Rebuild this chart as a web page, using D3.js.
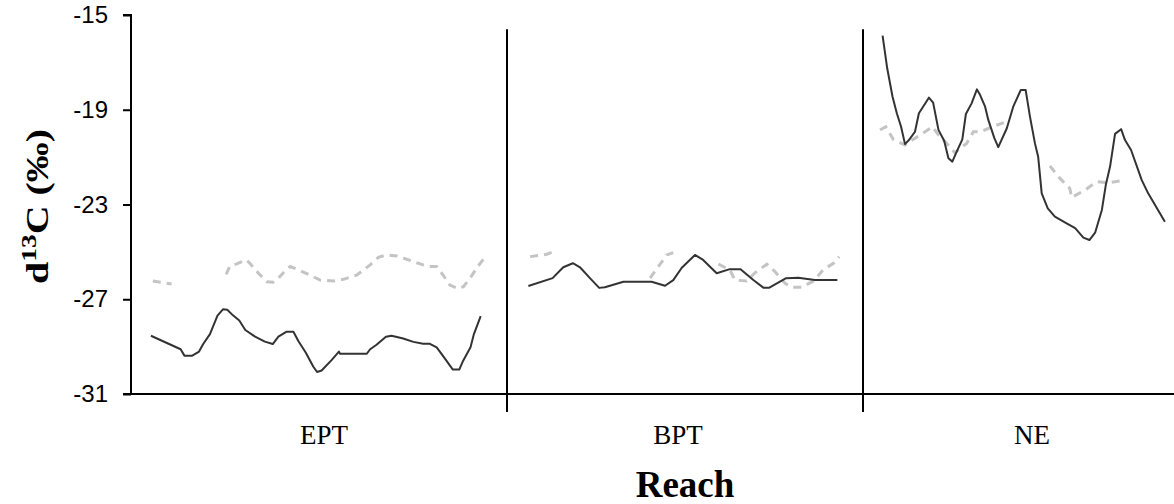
<!DOCTYPE html>
<html>
<head>
<meta charset="utf-8">
<script src="https://cdn.jsdelivr.net/npm/d3@7"></script>
<style>
  html, body { margin: 0; padding: 0; background: #fff; }
  svg { display: block; }
</style>
</head>
<body>
<svg id="chart" width="1174" height="504"></svg>
<script>
// ---- data ----
const categories = ["EPT", "BPT", "NE"];
const yTicks = [-31, -27, -23, -19, -15];
const yTitle = "d";
const ySup = "13";
const yTitleRest = "C (‰)";
const xTitle = "Reach";

// [position along reach (0–100), δ13C value]; null = gap
const eptSolid = [[5.3,-28.54],[13.2,-29.11],[14.2,-29.38],[16.3,-29.38],[18.1,-29.21],[19.2,-28.89],[21.0,-28.47],[23.0,-27.69],[24.5,-27.42],[25.6,-27.44],[27.2,-27.69],[28.8,-27.90],[30.4,-28.30],[33.0,-28.58],[35.6,-28.79],[37.7,-28.89],[39.2,-28.58],[41.4,-28.37],[43.2,-28.37],[44.5,-28.76],[46.5,-29.26],[48.5,-29.85],[49.5,-30.07],[50.7,-30.01],[53.4,-29.56],[55.3,-29.21],[55.6,-29.30],[62.7,-29.30],[63.6,-29.11],[65.3,-28.92],[67.8,-28.58],[69.3,-28.54],[72.4,-28.66],[75.1,-28.80],[77.7,-28.88],[79.5,-28.88],[81.3,-29.03],[83.5,-29.51],[85.6,-29.97],[87.3,-29.97],[88.2,-29.64],[90.3,-29.03],[91.2,-28.47],[93.0,-27.71]];
const eptGrey = [[5.8,-26.23],[10.8,-26.36],[11,null],[25.3,-25.95],[26.3,-25.60],[28.1,-25.51],[30.6,-25.34],[31.6,-25.48],[33.9,-25.90],[36.1,-26.26],[37.8,-26.28],[39.2,-26.11],[41.2,-25.76],[42.3,-25.62],[44.1,-25.73],[47.6,-25.98],[50.3,-26.19],[53.8,-26.23],[56.5,-26.16],[60.0,-25.98],[63.6,-25.55],[65.8,-25.23],[68.0,-25.13],[70.7,-25.17],[73.3,-25.31],[76.0,-25.46],[79.1,-25.62],[81.3,-25.62],[83.0,-25.98],[84.8,-26.40],[87.0,-26.55],[88.4,-26.47],[90.2,-26.11],[91.9,-25.69],[93.9,-25.27]];
const bptSolid = [[6.0,-26.44],[12.8,-26.11],[15.8,-25.65],[18.5,-25.48],[20.5,-25.65],[23.3,-26.11],[25.9,-26.52],[27.5,-26.49],[32.7,-26.26],[40.6,-26.26],[44.4,-26.43],[46.7,-26.19],[49.1,-25.67],[52.8,-25.13],[55.1,-25.34],[58.9,-25.90],[62.6,-25.73],[65.6,-25.73],[69.2,-26.19],[72.0,-26.51],[73.7,-26.51],[78.4,-26.11],[81.8,-26.09],[86.5,-26.19],[92.8,-26.19]];
const bptGrey = [[6.5,-25.20],[11.2,-25.10],[13.8,-24.95],[14,null],[40.2,-26.11],[42.5,-25.62],[44.9,-25.13],[46.7,-25.03],[47,null],[59.4,-25.52],[62.6,-25.76],[64.0,-26.19],[67.3,-26.23],[69.7,-25.88],[73.0,-25.52],[75.3,-25.84],[78.1,-26.33],[80.0,-26.49],[82.8,-26.49],[86.2,-26.22],[88.8,-25.76],[91.7,-25.48],[93.3,-25.20]];
const neSolid = [[5.5,-15.87],[6.8,-17.25],[8.3,-18.45],[9.5,-19.15],[10.7,-19.72],[11.8,-20.45],[12.9,-20.28],[14.6,-19.93],[15.7,-19.15],[17.2,-18.80],[18.5,-18.49],[19.7,-18.70],[21.2,-19.85],[22.8,-20.31],[24.0,-21.05],[25.1,-21.19],[26.1,-20.84],[27.9,-20.25],[28.9,-19.18],[30.5,-18.73],[32.0,-18.14],[32.9,-18.38],[34.3,-18.87],[35.2,-19.43],[36.9,-20.20],[38.0,-20.58],[40.4,-19.78],[42.2,-18.87],[44.3,-18.17],[45.7,-18.17],[46.9,-19.29],[48.3,-20.42],[49.2,-20.98],[50.2,-22.53],[51.9,-23.16],[53.9,-23.51],[56.7,-23.75],[59.6,-24.00],[61.9,-24.40],[63.6,-24.50],[65.2,-24.19],[67.1,-23.23],[68.2,-22.18],[69.4,-21.40],[70.8,-20.02],[72.5,-19.82],[73.6,-20.28],[75.3,-20.70],[78.3,-21.97],[80.1,-22.53],[84.8,-23.73]];
const neGrey = [[4.8,-19.85],[6.4,-19.72],[8.5,-20.25],[11.8,-20.49],[14.6,-20.20],[16.5,-20.02],[19.5,-19.72],[21.6,-20.14],[23.5,-20.42],[25.8,-20.81],[29.1,-20.42],[31.0,-19.93],[33.1,-19.93],[36.2,-19.72],[39.9,-19.53],[40,null],[52.5,-21.37],[54.9,-21.83],[58.1,-22.32],[58.6,-22.70],[62.4,-22.39],[65.6,-22.04],[68.9,-22.08],[73.1,-21.99]];

const solidSeries = [eptSolid, bptSolid, neSolid];
const greySeries = [eptGrey, bptGrey, neGrey];

// ---- layout ----
const svg = d3.select("#chart");
const x = d3.scaleLinear().domain([0, 100, 200, 300]).range([131, 507, 863, 1219]);
const xLabel = d3.scaleBand().domain(categories).range([147, 1209]);
const y = d3.scaleLinear().domain([-31, -15]).range([394, 15]);

// y axis
const yAxis = d3.axisLeft(y).tickValues(yTicks).tickSize(8).tickPadding(15).tickFormat(d => String(d));
const gy = svg.append("g").attr("transform", `translate(${x(0)},0)`).call(yAxis);
gy.select(".domain").attr("stroke", "#000").attr("stroke-width", 2).attr("d", `M-8,${y(-15)}H0V${y(-31)}`);
gy.selectAll(".tick line").attr("stroke", "#000").attr("stroke-width", 2);
gy.selectAll(".tick text")
  .attr("font-family", "Liberation Sans, Arial, sans-serif")
  .attr("font-size", 24).attr("fill", "#000");

// x axis baseline
svg.append("line")
  .attr("x1", x(0) - 8).attr("x2", x(300))
  .attr("y1", y(-31)).attr("y2", y(-31))
  .attr("stroke", "#000").attr("stroke-width", 2);

// reach separators
svg.selectAll("line.sep").data([100, 200]).join("line")
  .attr("class", "sep")
  .attr("x1", d => x(d)).attr("x2", d => x(d))
  .attr("y1", y(-15.6)).attr("y2", y(-31) + 18)
  .attr("stroke", "#000").attr("stroke-width", 2);

// category labels
svg.selectAll("text.cat").data(categories).join("text")
  .attr("class", "cat")
  .attr("x", d => xLabel(d) + xLabel.bandwidth() / 2)
  .attr("y", 444)
  .attr("text-anchor", "middle")
  .attr("font-family", "Liberation Serif, 'Times New Roman', serif")
  .attr("font-size", 27)
  .attr("fill", "#000")
  .text(d => d);

// x title
svg.append("text")
  .attr("x", x(150)).attr("y", 497)
  .attr("text-anchor", "middle")
  .attr("font-family", "Liberation Serif, 'Times New Roman', serif")
  .attr("font-weight", "bold").attr("font-size", 37)
  .attr("fill", "#000")
  .text(xTitle);

// y title
const yt = svg.append("text")
  .attr("transform", `translate(48,${(y(-15) + y(-31)) / 2 + 2}) rotate(-90)`)
  .attr("text-anchor", "middle")
  .attr("font-family", "Liberation Serif, 'Times New Roman', serif")
  .attr("font-weight", "bold").attr("font-size", 32)
  .attr("fill", "#000")
  .attr("textLength", 155).attr("lengthAdjust", "spacingAndGlyphs");
yt.append("tspan").text(yTitle);
yt.append("tspan").attr("font-size", 22).attr("dy", -12).text(ySup);
yt.append("tspan").attr("dy", 12).text(yTitleRest);

// lines
const lineFor = offset => d3.line()
  .defined(d => d[1] != null)
  .x(d => x(offset + d[0]))
  .y(d => y(d[1]))
  .curve(d3.curveLinear);

greySeries.forEach((s, i) => {
  svg.append("path").datum(s)
    .attr("d", lineFor(i * 100))
    .attr("fill", "none")
    .attr("stroke", "#c4c4c4")
    .attr("stroke-width", 3)
    .attr("stroke-dasharray", "8,6");
});
solidSeries.forEach((s, i) => {
  svg.append("path").datum(s)
    .attr("d", lineFor(i * 100))
    .attr("fill", "none")
    .attr("stroke", "#333")
    .attr("stroke-width", 2)
    .attr("stroke-linejoin", "round");
});
</script>
</body>
</html>
